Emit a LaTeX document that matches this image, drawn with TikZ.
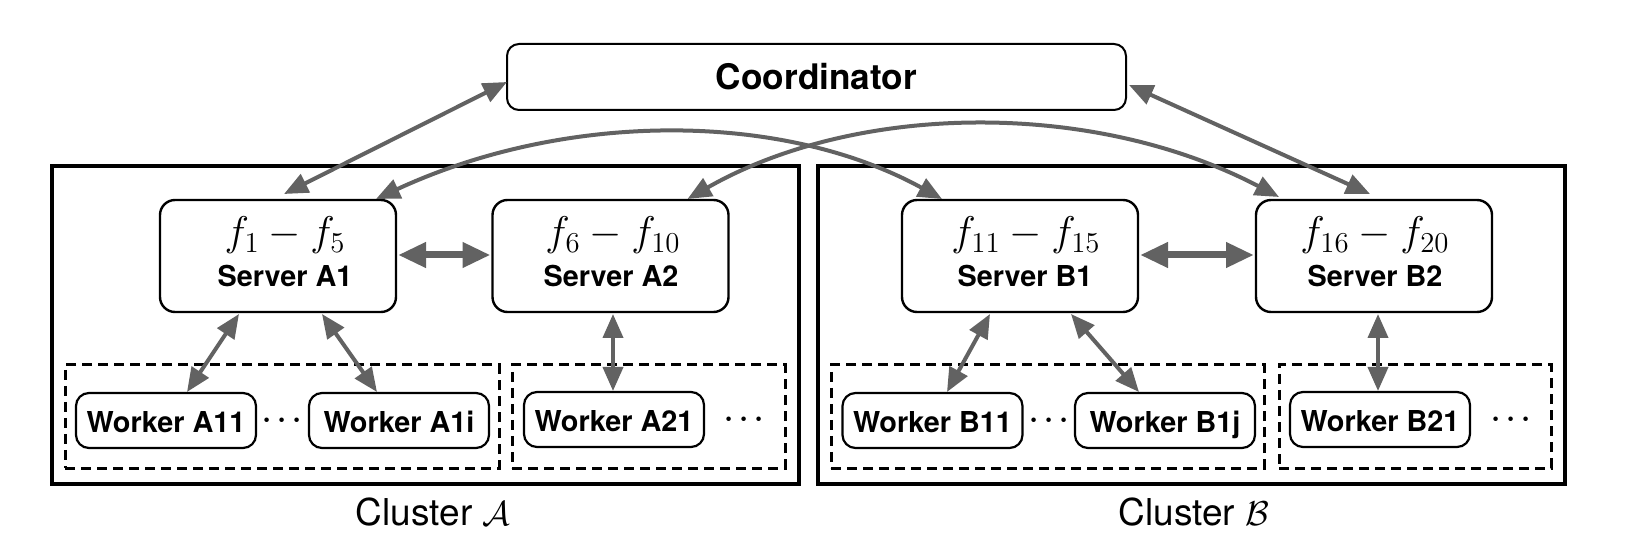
\documentclass[tikz,border=0pt]{standalone}
\usepackage{fontspec}
\newfontfamily\hb{TeX Gyre Heros}
\newfontfamily\hr{TeX Gyre Heros}
\usetikzlibrary{arrows.meta,calc}
\definecolor{arr}{HTML}{626262}
\begin{document}
\begin{tikzpicture}[x=0.5pt,y=-0.5pt,
  every node/.style={inner sep=0pt, outer sep=0pt},
  cluster/.style={draw, line width=2.2pt, minimum height=159pt, minimum width=373.5pt},
  group/.style={draw, dash pattern=on 5pt off 3pt, line width=1.5pt, minimum height=51.5pt},
  coordbox/.style={draw, line width=1pt, rounded corners=6pt, minimum width=309.5pt, minimum height=33pt, text height=13pt, text depth=0pt, font=\hb\bfseries\fontsize{17.6}{20}\selectfont},
  server/.style={draw, line width=1.2pt, rounded corners=7.5pt, minimum width=118pt, minimum height=56pt},
  worker/.style={draw, line width=1.1pt, rounded corners=6.5pt, minimum width=90pt, minimum height=27.5pt, text height=11.5pt, text depth=0pt, font=\hb\bfseries\fontsize{14.4}{17}\selectfont},
  ftxt/.style={anchor=base, font=\fontsize{20.74}{23}\selectfont},
  stxt/.style={anchor=base, font=\hb\bfseries\fontsize{14.4}{17}\selectfont},
  dotstxt/.style={anchor=base, font=\fontsize{14.4}{17}\selectfont\boldmath},
  ctxt/.style={anchor=base, font=\hr\fontsize{18.5}{21}\selectfont},
  link/.style={draw=arr, line width=2pt, >={Triangle[length=12pt,width=10pt]}, <->},
  peer/.style={draw=arr, line width=3.5pt, >={Triangle[length=14pt,width=12pt]}, <->},
]
\useasboundingbox (0,0) rectangle (1648,550);

% clusters
\node[cluster] (CA) at (425.5,325) {};
\node[cluster] (CB) at (1191.5,325) {};
\node[ctxt] (CAl) at (433,525) {Cluster $\mathcal{A}$};
\node[ctxt] (CBl) at (1194,525) {Cluster $\mathcal{B}$};

% worker groups
\node[group, minimum width=217pt] (GA1) at (282,416.5) {};
\node[group, minimum width=136.5pt] (GA2) at (648.5,416.5) {};
\node[group, minimum width=216.5pt] (GB1) at (1047.5,416.5) {};
\node[group, minimum width=136pt] (GB2) at (1415,416.5) {};

% coordinator
\node[coordbox] (coord) at (816.5,77) {Coordinator};

% servers
\node[server] (A1) at (278,256) {};
\node[server] (A2) at (610.5,256) {};
\node[server] (B1) at (1020,256) {};
\node[server] (B2) at (1374,256) {};
\node[ftxt] (A1f) at (285,246) {$f_{1}-f_{5}$};
\node[ftxt] (A2f) at (613,246) {$f_{6}-f_{10}$};
\node[ftxt] (B1f) at (1026,246) {$f_{11}-f_{15}$};
\node[ftxt] (B2f) at (1375,246) {$f_{16}-f_{20}$};
\node[stxt] (A1l) at (285,287) {Server A1};
\node[stxt] (A2l) at (611,287) {Server A2};
\node[stxt] (B1l) at (1025,287) {Server B1};
\node[stxt] (B2l) at (1375,287) {Server B2};

% workers
\node[worker] (A11) at (166,420.5) {Worker A11};
\node[worker] (A1i) at (399,420.5) {Worker A1i};
\node[worker] (A21) at (614,419.5) {Worker A21};
\node[worker] (B11) at (932.5,420.5) {Worker B11};
\node[worker] (B1j) at (1165,420.5) {Worker B1j};
\node[worker] (B21) at (1380,419.5) {Worker B21};
\node[dotstxt] (dA1) at (282,428) {$\cdots$};
\node[dotstxt] (dA2) at (744,426) {$\cdots$};
\node[dotstxt] (dB1) at (1049,428) {$\cdots$};
\node[dotstxt] (dB2) at (1511,426) {$\cdots$};

% connectors
\draw[link] ($(A1.north)+(6,-6)$) -- ($(coord.west)+(0,5)$);
\draw[link] ($(coord.east)+(3,8)$) -- ($(B2.north)+(-4,-6)$);
\draw[link] ($(A1.north east)+(-20,-1)$) .. controls +(190,-88) and +(-160,-88) .. ($(B1.north west)+(40,-1)$);
\draw[link] ($(A2.north east)+(-41,-1)$) .. controls +(170,-97) and +(-185,-97) .. ($(B2.north west)+(23,-3)$);
\draw[peer] ($(A1.east)+(2,-1)$) -- ($(A2.west)+(-2,-1)$);
\draw[peer] ($(B1.east)+(2,-1)$) -- ($(B2.west)+(-2,-1)$);
\draw[link] ($(A1.south)+(-39,2)$) -- ($(A11.north)+(21,-1)$);
\draw[link] ($(A1.south)+(44,2)$) -- ($(A1i.north)+(-22,-1)$);
\draw[link] ($(A2.south)+(2.5,2)$) -- ($(A21.north)+(-1,-1)$);
\draw[link] ($(B1.south)+(-30,2)$) -- ($(B11.north)+(14.5,-1)$);
\draw[link] ($(B1.south)+(51,2)$) -- ($(B1j.north)+(-26,-1)$);
\draw[link] ($(B2.south)+(4,2)$) -- ($(B21.north)+(-2,-1)$);
\end{tikzpicture}
\end{document}
